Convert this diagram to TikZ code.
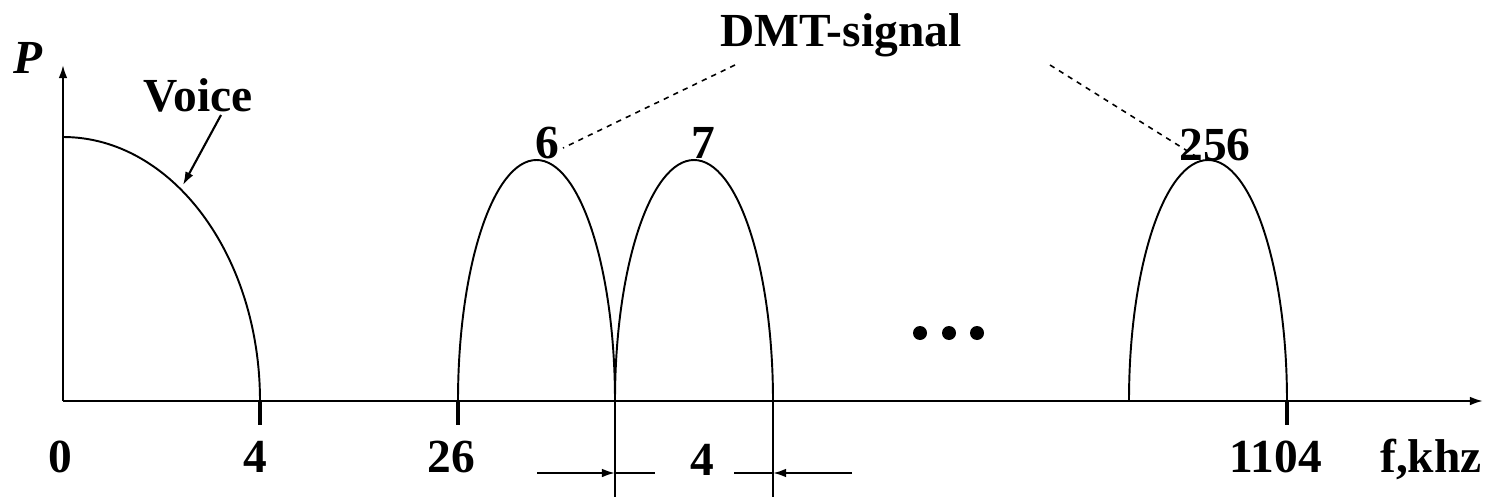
\documentclass[tikz,border=0pt]{standalone}
\usepackage{fontspec}
\setmainfont{Liberation Serif}
\usetikzlibrary{arrows.meta}
\begin{document}
\begin{tikzpicture}[x=0.02cm, y=-0.02cm, >={Latex[length=7.5pt, width=5pt]}, line width=1.2pt]
    \tikzstyle{lbl} = [font=\fontsize{27}{29}\selectfont\bfseries, inner sep=0pt, anchor=base]
    \tikzstyle{tickmark} = [line width=2.4pt]
    \tikzstyle{lobe} = [line width=1.1pt]
    \useasboundingbox (0,0) rectangle (1489,497);

    % axes
    \coordinate (origin) at (63,401);
    \coordinate (xend) at (1483,401);
    \coordinate (yend) at (63,65);
    \draw [->] (origin) -- (xend);
    \draw [->] (origin) -- (yend);

    % voice band
    \draw [lobe] (63,137) arc[start angle=270, end angle=360, x radius=197, y radius=264];
    % DMT sub-channels
    \draw [lobe] (458,401) arc[start angle=180, end angle=360, x radius=78.5, y radius=241];
    \draw [lobe] (615,401) arc[start angle=180, end angle=360, x radius=79, y radius=241];
    \draw [lobe] (1129,401) arc[start angle=180, end angle=360, x radius=79, y radius=241];

    % ticks
    \draw [tickmark] (260,401) -- (260,425);
    \draw [tickmark] (458,401) -- (458,425);
    \draw [tickmark] (1287,401) -- (1287,425);

    % channel width
    \coordinate (wl) at (615,401);
    \coordinate (wr) at (773,401);
    \coordinate (wlb) at (615,497);
    \coordinate (wrb) at (773,497);
    \draw (wl) -- (wlb);
    \draw (wr) -- (wrb);
    \coordinate (al) at (537,473);
    \coordinate (alt) at (615,473);
    \coordinate (ale) at (655,473);
    \coordinate (ar) at (852,473);
    \coordinate (art) at (773,473);
    \coordinate (are) at (734,473);
    \draw [->] (al) -- (alt);
    \draw (alt) -- (ale);
    \draw [->] (ar) -- (art);
    \draw (art) -- (are);

    % dots
    \foreach \x in {920,949,977}
        \fill (\x,333) circle[radius=7];

    % labels
    \node [lbl, font=\fontsize{27}{29}\selectfont\bfseries\itshape] (P) at (28,73) {P};
    \node [lbl] (voice) at (198,112) {Voice};
    \node [lbl] (dmt) at (841,47) {DMT-signal};
    \node [lbl] (c6) at (547,158) {6};
    \node [lbl] (c7) at (703,158) {7};
    \node [lbl] (c256) at (1215,160) {256};
    \node [lbl] (f0) at (60,472) {0};
    \node [lbl] (f4) at (255,472) {4};
    \node [lbl] (f26) at (451,472) {26};
    \node [lbl] (bw) at (702,475) {4};
    \node [lbl] (f1104) at (1276,472) {1104};
    \node [lbl] (unit) at (1431,472) {f,khz};

    % pointers
    \coordinate (vs) at (221,115);
    \coordinate (vt) at (183,185);
    \draw [->] (vs) -- (vt);
    \coordinate (dl) at (735,65);
    \coordinate (dlt) at (563,148);
    \coordinate (dr) at (1050,65);
    \coordinate (drt) at (1197,157);
    \draw [dashed, line width=0.9pt] (dl) -- (dlt);
    \draw [dashed, line width=0.9pt] (dr) -- (drt);
\end{tikzpicture}
\end{document}
